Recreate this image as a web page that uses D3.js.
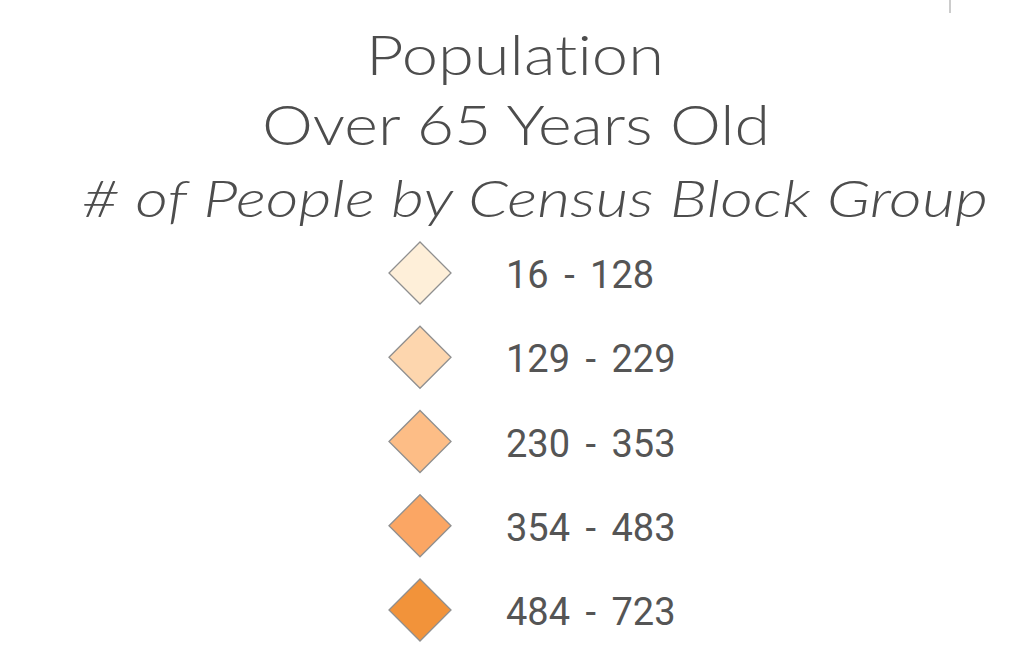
<!DOCTYPE html>
<html><head><meta charset="utf-8">
<script src="https://cdn.jsdelivr.net/npm/d3@7"></script>
<style>html,body{margin:0;padding:0;background:#fff;}svg{display:block;}text{font-variant-ligatures:none;}</style>
</head><body>
<svg id="c" width="1014" height="658"></svg>
<script>
const titleLines = ["Population", "Over 65 Years Old"];
const subtitle = "# of People by Census Block Group";
const classLabels = ["16 - 128", "129 - 229", "230 - 353", "354 - 483", "484 - 723"];
const classColors = ["#FEEFD9", "#FDD6AE", "#FDBD86", "#FBA664", "#F2933A"];

const svg = d3.select("#c");
const textColor = "#4d4d4d";

// small mark at top right
svg.append("line").attr("x1", 950).attr("x2", 950).attr("y1", 0).attr("y2", 13)
  .attr("stroke", "#bbb").attr("stroke-width", 1.5);

const titleFont = "Lato, 'Open Sans', sans-serif";
function placeFitted(t, x, y, target, size, italic) {
  const el = svg.append("text").attr("x", 0).attr("y", 0)
    .attr("text-anchor", "middle").attr("fill", textColor)
    .style("font-family", titleFont).style("font-weight", 300)
    .style("font-style", italic ? "italic" : "normal")
    .style("font-size", size + "px").text(t);
  const w = el.node().getComputedTextLength();
  const sx = Math.min(1.25, target / w);
  const extra = target - w * sx;
  if (extra > 0) el.style("letter-spacing", (extra / sx / t.length) + "px");
  el.attr("transform", `translate(${x},${y}) scale(${sx},1)`);
}
placeFitted(titleLines[0], 515, 75, 298, 56, false);
placeFitted(titleLines[1], 516, 145, 508, 56, false);
placeFitted(subtitle, 535, 217, 906, 51, true);

const y = d3.scalePoint().domain(classLabels).range([273, 610]);
const half = 31;
const g = svg.append("g");
const rows = g.selectAll("g.row").data(classLabels).join("g").attr("class", "row")
  .attr("transform", d => `translate(0,${y(d)})`);
rows.append("path")
  .attr("d", `M${420 - half},0 L420,${-half} L${420 + half},0 L420,${half} Z`)
  .attr("fill", (d, i) => classColors[i])
  .attr("stroke", "#8f8f8f").attr("stroke-width", 1.3);
rows.append("text").attr("x", 506).attr("y", 15)
  .attr("fill", "#555")
  .style("font-family", "Roboto, sans-serif").style("font-size", "38px")
  .style("word-spacing", "6px")
  .text(d => d);
</script>
</body></html>
